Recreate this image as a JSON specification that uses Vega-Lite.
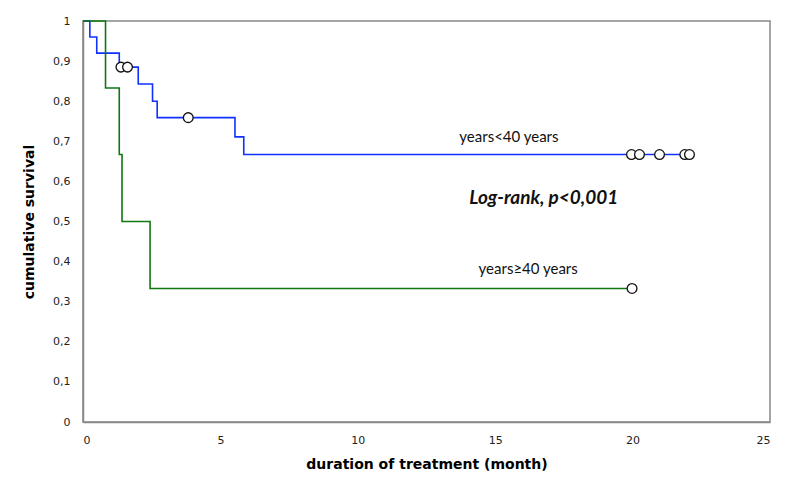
{
  "$schema": "https://vega.github.io/schema/vega-lite/v6.json",
  "width": 687,
  "height": 401,
  "autosize": {"type": "none"},
  "padding": {"left": 83, "top": 21, "right": 30, "bottom": 76},
  "background": "white",
  "config": {
    "view": {"stroke": "#888888", "strokeWidth": 1.5},
    "axis": {"grid": false, "ticks": false, "domainColor": "#888888", "domainWidth": 1.5, "labelFont": "DejaVu Sans", "labelFontSize": 11, "labelColor": "#222222", "titleFont": "DejaVu Sans", "titleFontSize": 14, "titleFontWeight": "bold", "titleColor": "#000000"}
  },
  "datasets": {
    "curves": [
      {"group": "lt40", "t": 0, "s": 1},
      {"group": "lt40", "t": 0.25, "s": 0.96},
      {"group": "lt40", "t": 0.5, "s": 0.92},
      {"group": "lt40", "t": 1.32, "s": 0.885},
      {"group": "lt40", "t": 2.01, "s": 0.843},
      {"group": "lt40", "t": 2.53, "s": 0.8},
      {"group": "lt40", "t": 2.7, "s": 0.759},
      {"group": "lt40", "t": 5.53, "s": 0.711},
      {"group": "lt40", "t": 5.85, "s": 0.667},
      {"group": "lt40", "t": 22.07, "s": 0.667},
      {"group": "ge40", "t": 0, "s": 1},
      {"group": "ge40", "t": 0.82, "s": 0.833},
      {"group": "ge40", "t": 1.32, "s": 0.667},
      {"group": "ge40", "t": 1.42, "s": 0.5},
      {"group": "ge40", "t": 2.44, "s": 0.333},
      {"group": "ge40", "t": 19.98, "s": 0.333}
    ],
    "censored": [
      {"group": "lt40", "t": 1.38, "s": 0.885},
      {"group": "lt40", "t": 1.62, "s": 0.885},
      {"group": "lt40", "t": 3.83, "s": 0.759},
      {"group": "lt40", "t": 19.96, "s": 0.667},
      {"group": "lt40", "t": 20.25, "s": 0.667},
      {"group": "lt40", "t": 20.98, "s": 0.667},
      {"group": "lt40", "t": 21.9, "s": 0.667},
      {"group": "lt40", "t": 22.07, "s": 0.667},
      {"group": "ge40", "t": 19.98, "s": 0.333}
    ],
    "labels": [
      {"label": "years<40 years", "t": 15.5, "s": 0.711},
      {"label": "years≥40 years", "t": 16.2, "s": 0.381}
    ],
    "stat": [
      {"label": "Log-rank, p<0,001", "t": 16.77, "s": 0.559}
    ]
  },
  "layer": [
    {
      "data": {"name": "curves"},
      "mark": {"type": "line", "interpolate": "step-after", "strokeWidth": 1.6},
      "encoding": {
        "x": {"field": "t", "type": "quantitative", "scale": {"domain": [0, 25], "nice": false}, "axis": {"values": [0, 5, 10, 15, 20, 25], "title": "duration of treatment (month)", "labelPadding": 12, "titlePadding": 12}},
        "y": {"field": "s", "type": "quantitative", "scale": {"domain": [0, 1], "nice": false}, "axis": {"values": [0, 0.1, 0.2, 0.3, 0.4, 0.5, 0.6, 0.7, 0.8, 0.9, 1], "labelExpr": "replace(format(datum.value, '~g'), '.', ',')", "title": "cumulative survival", "labelPadding": 13, "titlePadding": 16}},
        "color": {"field": "group", "type": "nominal", "scale": {"domain": ["lt40", "ge40"], "range": ["#1030ff", "#107810"]}, "legend": null}
      }
    },
    {
      "data": {"name": "censored"},
      "mark": {"type": "point", "shape": "circle", "filled": true, "fill": "white", "stroke": "#111111", "strokeWidth": 1.3, "size": 95, "opacity": 1},
      "encoding": {
        "x": {"field": "t", "type": "quantitative"},
        "y": {"field": "s", "type": "quantitative"}
      }
    },
    {
      "data": {"name": "labels"},
      "mark": {"type": "text", "font": "Lato", "fontSize": 15, "align": "center", "baseline": "middle", "color": "#111111"},
      "encoding": {
        "x": {"field": "t", "type": "quantitative"},
        "y": {"field": "s", "type": "quantitative"},
        "text": {"field": "label"}
      }
    },
    {
      "data": {"name": "stat"},
      "mark": {"type": "text", "font": "Lato", "fontSize": 19, "fontWeight": "bold", "fontStyle": "italic", "align": "center", "baseline": "middle", "color": "#111111"},
      "encoding": {
        "x": {"field": "t", "type": "quantitative"},
        "y": {"field": "s", "type": "quantitative"},
        "text": {"field": "label"}
      }
    }
  ]
}
